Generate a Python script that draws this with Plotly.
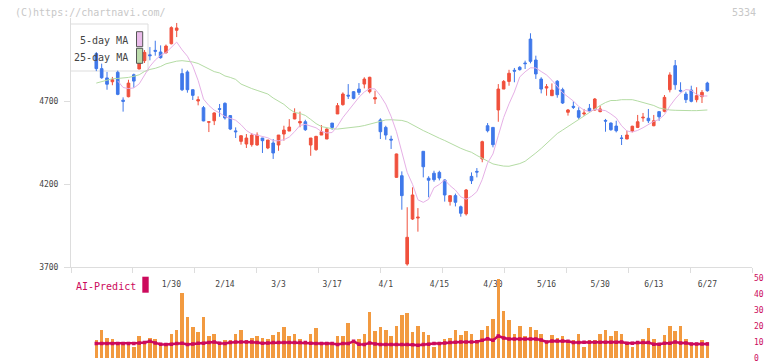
import plotly.graph_objects as go
import pandas as pd

# ---------------- data ----------------
opens = [4985, 4895, 4839, 4816, 4873, 4705, 4726, 4858, 4893, 4943,
         4978, 5005, 4995, 4991, 5045, 5126, 4865, 4875, 4768, 4700,
         4660, 4572, 4581, 4654, 4686, 4612, 4520, 4457, 4441, 4437,
         4435, 4477, 4417, 4447, 4435, 4501, 4519, 4592, 4568, 4575,
         4435, 4407, 4495, 4471, 4567, 4622, 4678, 4735, 4756, 4772,
         4802, 4756, 4712, 4586, 4541, 4470, 4240, 4250, 3718, 3989,
         3995, 4397, 4235, 4265, 4270, 4224, 4094, 4130, 4063, 4020,
         4246, 4276, 4351, 4551, 4541, 4646, 4772, 4818, 4885, 4903,
         4929, 5073, 4947, 4832, 4778, 4732, 4819, 4768, 4632, 4668,
         4642, 4622, 4656, 4646, 4636, 4583, 4567, 4549, 4477, 4471,
         4519, 4541, 4598, 4596, 4551, 4636, 4638, 4768, 4913, 4764,
         4742, 4766, 4708, 4726, 4808]
highs = [4995, 4925, 4875, 4845, 4883, 4722, 4828, 4865, 4983, 5007,
         5025, 5063, 5035, 5040, 5150, 5170, 4895, 4885, 4770, 4728,
         4670, 4575, 4632, 4682, 4692, 4615, 4541, 4491, 4501, 4507,
         4511, 4477, 4465, 4471, 4495, 4551, 4591, 4656, 4636, 4587,
         4477, 4490, 4555, 4535, 4567, 4688, 4752, 4802, 4760, 4808,
         4843, 4846, 4762, 4596, 4551, 4491, 4383, 4276, 4060, 4180,
         4055, 4397, 4247, 4280, 4280, 4230, 4130, 4142, 4070, 4170,
         4270, 4296, 4461, 4567, 4541, 4802, 4826, 4888, 4899, 4910,
         4943, 5108, 4973, 4843, 4802, 4806, 4826, 4780, 4652, 4698,
         4662, 4652, 4682, 4718, 4672, 4592, 4571, 4581, 4495, 4521,
         4551, 4616, 4628, 4652, 4616, 4636, 4736, 4873, 4947, 4813,
         4756, 4792, 4783, 4766, 4816]
lows = [4880, 4834, 4768, 4795, 4735, 4636, 4722, 4780, 4891, 4929,
        4945, 4973, 4955, 4985, 5041, 5085, 4760, 4750, 4706, 4674,
        4578, 4513, 4555, 4605, 4588, 4525, 4477, 4437, 4417, 4425,
        4431, 4387, 4410, 4351, 4400, 4461, 4519, 4590, 4542, 4520,
        4370, 4400, 4495, 4471, 4527, 4622, 4672, 4712, 4710, 4736,
        4776, 4746, 4682, 4471, 4467, 4411, 4238, 4045, 3708, 3983,
        3913, 4240, 4120, 4214, 4222, 4094, 4070, 4065, 4003, 4010,
        4200, 4240, 4331, 4511, 4421, 4575, 4772, 4792, 4813, 4883,
        4893, 4927, 4833, 4746, 4732, 4732, 4720, 4682, 4612, 4652,
        4592, 4611, 4636, 4642, 4632, 4515, 4521, 4511, 4435, 4471,
        4511, 4537, 4575, 4567, 4548, 4581, 4632, 4752, 4768, 4752,
        4688, 4692, 4692, 4688, 4756]
closes = [4895, 4840, 4801, 4828, 4740, 4698, 4808, 4820, 4949, 4993,
          4973, 5000, 4961, 5031, 5142, 5140, 4768, 4768, 4734, 4708,
          4580, 4575, 4628, 4650, 4598, 4531, 4515, 4491, 4477, 4495,
          4495, 4461, 4465, 4387, 4495, 4525, 4543, 4626, 4576, 4527,
          4477, 4487, 4515, 4531, 4541, 4672, 4742, 4730, 4716, 4752,
          4832, 4843, 4720, 4515, 4495, 4465, 4381, 4130, 3879, 4134,
          4000, 4304, 4223, 4226, 4236, 4134, 4130, 4090, 4024, 4164,
          4220, 4272, 4455, 4521, 4437, 4772, 4818, 4867, 4880, 4889,
          4925, 4939, 4863, 4772, 4786, 4766, 4738, 4688, 4646, 4662,
          4602, 4627, 4640, 4712, 4652, 4579, 4527, 4521, 4475, 4495,
          4548, 4575, 4602, 4581, 4581, 4605, 4722, 4857, 4798, 4760,
          4708, 4698, 4732, 4752, 4762]
ma25 = [4808, 4817, 4827, 4834, 4836, 4837, 4842, 4849, 4858, 4878,
        4890, 4897, 4908, 4924, 4934, 4940, 4943, 4940, 4935, 4926,
        4911, 4894, 4877, 4869, 4851, 4842, 4830, 4802, 4787, 4775,
        4764, 4755, 4742, 4718, 4697, 4680, 4652, 4631, 4625, 4613,
        4589, 4564, 4546, 4539, 4533, 4531, 4534, 4539, 4542, 4546,
        4552, 4561, 4572, 4581, 4586, 4587, 4586, 4583, 4574, 4555,
        4540, 4522, 4507, 4490, 4476, 4462, 4445, 4429, 4415, 4402,
        4391, 4372, 4354, 4339, 4321, 4314, 4308, 4307, 4314, 4323,
        4337, 4360, 4387, 4414, 4444, 4477, 4504, 4525, 4546, 4567,
        4589, 4610, 4634, 4655, 4673, 4691, 4703, 4703, 4708, 4708,
        4708, 4700, 4691, 4685, 4673, 4658, 4650, 4646, 4644, 4642,
        4642, 4642, 4642, 4644, 4646]
volume = [11.1, 17.9, 12.9, 11.7, 10.4, 9.8, 9.8, 6.7, 13.6, 9.8,
          12.9, 11.7, 9.8, 9.8, 15.4, 17.9, 40.4, 25.4, 19.2, 16.1,
          25.4, 13.6, 15.4, 9.8, 11.1, 11.1, 15.4, 17.9, 11.1, 12.9,
          13.6, 12.9, 11.7, 14.2, 16.1, 19.2, 13.6, 15.4, 12.3, 9.8,
          15.4, 18.6, 10.4, 10.4, 9.8, 13.6, 13.6, 21.7, 9.8, 11.7,
          14.8, 28.6, 16.7, 19.2, 17.9, 13.6, 19.8, 26.7, 27.9, 16.1,
          19.8, 16.1, 14.2, 6.7, 8.0, 11.7, 12.9, 17.9, 14.2, 16.7,
          15.4, 11.1, 17.9, 20.4, 24.2, 49.4, 29.2, 23.6, 14.8, 19.8,
          13.6, 19.2, 17.3, 14.8, 10.4, 14.2, 12.9, 13.6, 10.4, 11.1,
          15.4, 7.3, 11.1, 11.1, 14.8, 17.3, 13.6, 16.7, 15.4, 9.8,
          7.3, 9.8, 11.7, 18.6, 11.7, 9.8, 14.2, 20.4, 16.7, 20.4,
          11.7, 9.8, 9.8, 11.1, 10.4]
ai_predict = [9.0, 9.0, 9.0, 9.0, 9.0, 9.0, 9.0, 9.0, 9.4, 9.6,
              10.4, 9.4, 8.6, 8.4, 8.6, 9.0, 9.2, 8.4, 8.8, 9.2,
              9.2, 9.6, 10.0, 9.2, 9.0, 9.6, 10.0, 10.0, 10.0, 10.0,
              9.6, 9.2, 9.4, 9.6, 9.6, 9.6, 9.6, 9.6, 9.6, 9.6,
              9.2, 9.0, 9.0, 9.0, 9.0, 8.4, 9.0, 9.0, 10.4, 8.6,
              8.4, 9.4, 8.8, 8.4, 8.4, 8.4, 8.4, 8.4, 8.4, 8.2,
              7.9, 8.4, 8.6, 9.0, 9.0, 9.4, 9.6, 9.8, 10.0, 10.0,
              10.0, 10.2, 11.0, 12.0, 11.0, 13.7, 12.5, 11.8, 11.8, 11.8,
              11.8, 11.8, 11.8, 11.2, 10.0, 10.6, 10.6, 10.6, 10.4, 9.6,
              9.6, 9.8, 9.8, 9.8, 9.8, 9.8, 9.8, 9.8, 10.0, 9.2,
              9.2, 9.6, 9.6, 9.6, 8.6, 8.6, 9.2, 9.2, 10.0, 9.4,
              9.4, 8.8, 8.8, 8.8, 8.8]
tick_labels = ["1/30", "2/14", "3/3", "3/17", "4/1", "4/15", "4/30",
               "5/16", "5/30", "6/13", "6/27"]
tick_index = [14, 24, 34, 44, 54, 64, 74, 84, 94, 104, 114]
price_ticks = [3700, 4200, 4700]
vol_ticks = [0, 10, 20, 30, 40, 50]

# ---------------- derived ----------------
x = list(range(len(closes)))
ma5 = pd.Series(closes).rolling(5).mean().tolist()

RED = "#f0503c"
BLUE = "#3f78ea"
PINK = "#e6b0e6"
GREEN = "#b4dca4"
CRIMSON = "#cc0a5c"
ORANGE = "#f29a40"
MONO = "DejaVu Sans Mono"

fig = go.Figure()
fig.add_trace(go.Scatter(x=x, y=ma25, mode="lines", line=dict(color=GREEN, width=1),
                         xaxis="x", yaxis="y", hoverinfo="skip"))
fig.add_trace(go.Scatter(x=x, y=ma5, mode="lines", line=dict(color=PINK, width=1),
                         xaxis="x", yaxis="y", hoverinfo="skip"))
fig.add_trace(go.Candlestick(
    x=x, open=opens, high=highs, low=lows, close=closes,
    increasing=dict(line=dict(color=RED, width=1), fillcolor=RED),
    decreasing=dict(line=dict(color=BLUE, width=1), fillcolor=BLUE),
    whiskerwidth=0, xaxis="x", yaxis="y"))
fig.add_trace(go.Bar(x=x, y=volume, marker=dict(color=ORANGE, line=dict(width=0)),
                     width=0.66, xaxis="x2", yaxis="y2"))
fig.add_trace(go.Scatter(x=x, y=ai_predict, mode="lines+markers",
                         line=dict(color=CRIMSON, width=2.5),
                         marker=dict(symbol="square", size=3.5, color=CRIMSON),
                         xaxis="x2", yaxis="y2"))

XR = [-4.72, 122.33]
fig.update_layout(
    width=772, height=361, autosize=False,
    margin=dict(l=71, r=20, t=18, b=3, autoexpand=False),
    paper_bgcolor="white", plot_bgcolor="white",
    showlegend=False, bargap=0,
    xaxis=dict(domain=[0, 1], anchor="y", range=XR, showgrid=False, zeroline=False,
               automargin=False,
               showline=True, linecolor="#dddddd", linewidth=1,
               rangeslider=dict(visible=False),
               tickmode="array", tickvals=tick_index, ticktext=tick_labels, ticks="",
               tickfont=dict(family=MONO, size=8, color="#444444"),
               ticklabelstandoff=9,
               minor=dict(tickmode="linear", tick0=XR[0], dtick=(XR[1] - XR[0]) / 11,
                          ticks="outside", ticklen=5, tickcolor="#dddddd", tickwidth=1,
                          showgrid=False)),
    yaxis=dict(domain=[0.2676, 1], anchor="x", range=[3700, 5200], tickvals=price_ticks,
               automargin=False,
               ticks="outside", ticklen=6, tickcolor="#dddddd", showline=True,
               linecolor="#dddddd", linewidth=1, showgrid=False, zeroline=False,
               tickfont=dict(family=MONO, size=8, color="#444444"), ticklabelstandoff=4),
    xaxis2=dict(domain=[0, 1], anchor="y2", range=XR, visible=False, automargin=False),
    yaxis2=dict(domain=[0, 0.236], anchor="x2", range=[0, 50], side="right",
                automargin=False, ticklabeloverflow="allow",
                tickvals=vol_ticks, showgrid=False, zeroline=False, showline=False,
                ticks="", tickfont=dict(family=MONO, size=8, color=CRIMSON),
                ticklabelstandoff=1),
)

def px_x(p):
    return (p - 71) / 681.0

def px_y(p):
    return (358 - p) / 340.0

shapes = [
    dict(type="rect", xref="paper", yref="paper", layer="below",
         x0=px_x(70.5), x1=px_x(148), y0=px_y(71), y1=px_y(24),
         line=dict(color="#dddddd", width=1), fillcolor="white"),
    dict(type="rect", xref="paper", yref="paper", layer="above",
         x0=px_x(136.5), x1=px_x(142.7), y0=px_y(46.7), y1=px_y(31.7),
         line=dict(color="#555555", width=1), fillcolor="#eabcea"),
    dict(type="rect", xref="paper", yref="paper", layer="above",
         x0=px_x(136.5), x1=px_x(142.7), y0=px_y(63.3), y1=px_y(48.3),
         line=dict(color="#555555", width=1), fillcolor="#bcdcac"),
    dict(type="rect", xref="paper", yref="paper", layer="above",
         x0=px_x(142.3), x1=px_x(148.7), y0=px_y(292.7), y1=px_y(276.7),
         line=dict(width=0), fillcolor=CRIMSON),
]
annotations = [
    dict(text="(C)https://chartnavi.com/", xref="paper", yref="paper",
         x=px_x(13), y=px_y(12), xanchor="left", yanchor="middle", showarrow=False,
         font=dict(family=MONO, size=10, color="#c8c8c8")),
    dict(text="5334", xref="paper", yref="paper",
         x=px_x(758), y=px_y(12), xanchor="right", yanchor="middle", showarrow=False,
         font=dict(family=MONO, size=10, color="#c8c8c8")),
    dict(text="5-day MA", xref="paper", yref="paper",
         x=px_x(130), y=px_y(40), xanchor="right", yanchor="middle", showarrow=False,
         font=dict(family=MONO, size=10, color="#444444")),
    dict(text="25-day MA", xref="paper", yref="paper",
         x=px_x(130), y=px_y(57), xanchor="right", yanchor="middle", showarrow=False,
         font=dict(family=MONO, size=10, color="#444444")),
    dict(text="AI-Predict", xref="paper", yref="paper",
         x=px_x(74), y=px_y(286), xanchor="left", yanchor="middle", showarrow=False,
         font=dict(family=MONO, size=10, color=CRIMSON)),
]
fig.update_layout(shapes=shapes, annotations=annotations)

fig.write_html(
    "out.html",
    config={"responsive": False, "displayModeBar": False},
    post_script="document.body.style.margin='0';document.body.style.padding='0';"
                "document.body.style.overflow='hidden';"
                "document.documentElement.style.overflow='hidden';",
)
